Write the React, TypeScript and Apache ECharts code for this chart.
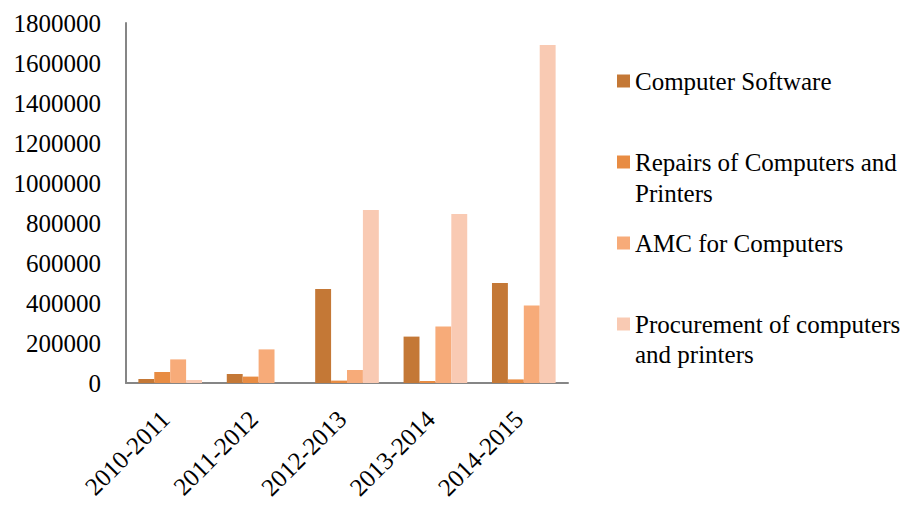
import React, { useEffect, useRef } from "react";
import * as echarts from "echarts";

const categories = ["2010-2011", "2011-2012", "2012-2013", "2013-2014", "2014-2015"];
const seriesNames = [
  "Computer Software",
  "Repairs of Computers and Printers",
  "AMC for Computers",
  "Procurement of computers and printers",
];
const legendFirstLines = ["Computer Software", "Repairs of Computers and", "AMC for Computers", "Procurement of computers"];
const legendSecondLines = ["", "Printers", "", "and printers"];
const computerSoftware = [20000, 45000, 470000, 232000, 500000];
const repairs = [55000, 32000, 12000, 10000, 18000];
const amc = [118000, 168000, 65000, 283000, 387000];
const procurement = [15000, 0, 865000, 845000, 1690000];
const yMax = 1800000;
const yInterval = 200000;

const colors = ["#C47836", "#E88C43", "#F7AB79", "#F9CAB3"];
const FONT = '"Liberation Serif", "Times New Roman", serif';

export default function App() {
  const ref = useRef<HTMLDivElement>(null);
  useEffect(() => {
    document.body.style.margin = "0";
    if (!ref.current) return;
    const chart = echarts.init(ref.current, undefined, { renderer: "svg" });
    const values = [computerSoftware, repairs, amc, procurement];
    const legendTops = [66, 147, 228, 309];
    const secondLineY = [0, 193, 0, 354];
    const option: any = {
      animation: false,
      backgroundColor: "#ffffff",
      grid: { left: 126, right: 353, top: 23, bottom: 123, containLabel: false },
      xAxis: {
        type: "category",
        data: categories,
        axisLine: { show: true, lineStyle: { color: "#868686", width: 2 } },
        axisTick: { show: false },
        axisLabel: {
          rotate: 45,
          interval: 0,
          margin: 27,
          padding: [0, 7, 0, 0],
          color: "#000",
          fontFamily: FONT,
          fontSize: 25,
        },
      },
      yAxis: {
        type: "value",
        min: 0,
        max: yMax,
        interval: yInterval,
        splitLine: { show: false },
        axisLine: { show: true, lineStyle: { color: "#868686", width: 2 } },
        axisTick: { show: false },
        axisLabel: {
          color: "#000",
          fontFamily: FONT,
          fontSize: 25,
          margin: 25,
          formatter: (v: number) => String(v),
        },
      },
      legend: seriesNames.map((name, i) => ({
        data: [name],
        orient: "horizontal",
        left: 617,
        top: legendTops[i],
        padding: 0,
        itemWidth: 13,
        itemHeight: 13,
        icon: "rect",
        selectedMode: false,
        formatter: () => legendFirstLines[i],
        textStyle: { color: "#000", fontFamily: FONT, fontSize: 25, lineHeight: 30 },
      })),
      graphic: legendSecondLines
        .map((t, i) => ({ t, i }))
        .filter((d) => d.t)
        .map((d) => ({
          type: "text",
          left: 635,
          top: secondLineY[d.i] - 15,
          style: {
            text: d.t,
            font: `25px ${FONT}`,
            fill: "#000",
            lineHeight: 30,
          },
        })),
      series: seriesNames.map((name, i) => ({
        name,
        type: "bar",
        data: values[i],
        barGap: "0%",
        barCategoryGap: "28%",
        itemStyle: { color: colors[i] },
      })),
    };
    chart.setOption(option);
    return () => chart.dispose();
  }, []);
  return <div ref={ref} style={{ width: 921, height: 506 }} />;
}
